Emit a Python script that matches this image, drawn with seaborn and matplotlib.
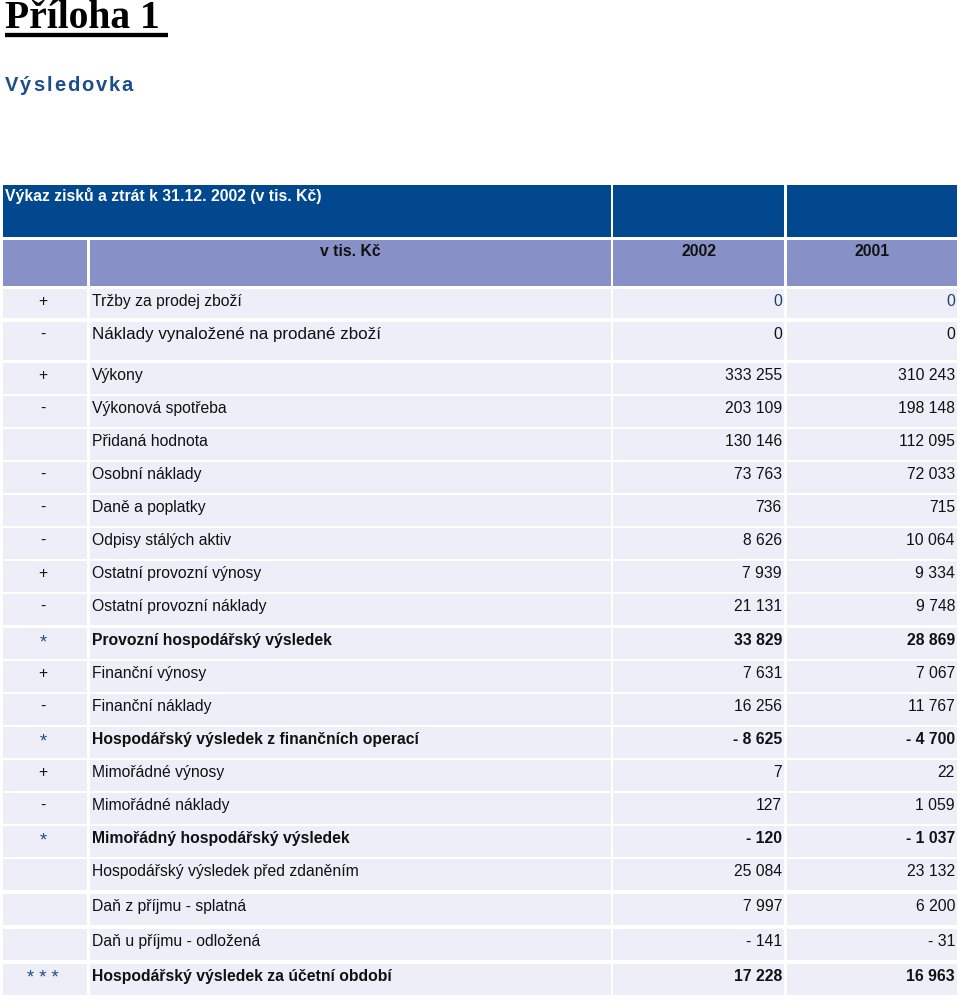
import matplotlib
matplotlib.use('Agg')
import matplotlib.pyplot as plt
import seaborn as sns
from matplotlib.patches import Rectangle

# Data - Vykaz zisku a ztrat (v tis. Kc)
signs = ['+', '-', '+', '-', '', '-', '-', '-', '+', '-', '*', '+', '-', '*',
         '+', '-', '*', '', '', '', '* * *']
labels = ['Tržby za prodej zboží', 'Náklady vynaložené na prodané zboží', 'Výkony',
          'Výkonová spotřeba', 'Přidaná hodnota', 'Osobní náklady', 'Daně a poplatky',
          'Odpisy stálých aktiv', 'Ostatní provozní výnosy', 'Ostatní provozní náklady',
          'Provozní hospodářský výsledek', 'Finanční výnosy', 'Finanční náklady',
          'Hospodářský výsledek z finančních operací', 'Mimořádné výnosy',
          'Mimořádné náklady', 'Mimořádný hospodářský výsledek',
          'Hospodářský výsledek před zdaněním', 'Daň z příjmu - splatná',
          'Daň u příjmu - odložená', 'Hospodářský výsledek za účetní období']
v2002 = [0, 0, 333255, 203109, 130146, 73763, 736, 8626, 7939, 21131, 33829,
         7631, 16256, -8625, 7, 127, -120, 25084, 7997, -141, 17228]
v2001 = [0, 0, 310243, 198148, 112095, 72033, 715, 10064, 9334, 9748, 28869,
         7067, 11767, -4700, 22, 1059, -1037, 23132, 6200, -31, 16963]
years = ['2002', '2001']

# layout (pixels)
row_tops = [289, 322, 363, 396, 429, 462, 495, 528, 561, 594, 628, 661, 694,
            727, 760, 793, 826, 859, 894, 929, 964]
row_h = [29, 38] + [31] * 19
cols = [(3, 87), (90, 611), (613, 784), (787, 957)]

dark_blue = '#02488e'
head_blue = '#8791c8'
cell_bg = '#eeeef9'
star_col = '#1f4f8a'


def fmt(v):
    s = f'{abs(v):,}'.replace(',', ' ')
    return ('- ' + s) if v < 0 else s


sns.set_theme(style='white')
plt.rcParams['font.family'] = ['Liberation Sans', 'DejaVu Sans']

fig = plt.figure(figsize=(9.6, 10), dpi=100)
ax = fig.add_axes([0, 0, 1, 1])
ax.set_xlim(0, 960)
ax.set_ylim(1000, 0)
ax.axis('off')
fs = 11.3

# title
ax.text(5, 28.5, 'Příloha 1', family='Liberation Serif', fontweight='bold',
        fontsize=28.5, color='black', va='baseline')
ax.plot([5, 168], [34.5, 34.5], color='black', lw=3.1, solid_capstyle='butt')

# letter-spaced subtitle
fig.canvas.draw()
rend = fig.canvas.get_renderer()
x = 5
for ch in 'Výsledovka':
    t = ax.text(x, 91, ch, fontsize=14.5, fontweight='bold', color='#1b4f8c',
                va='baseline')
    x += t.get_window_extent(rend).width + 1.9

# header rows
ax.add_patch(Rectangle((cols[0][0], 185), cols[1][1] - cols[0][0], 52, color=dark_blue, lw=0))
for c in cols[2:]:
    ax.add_patch(Rectangle((c[0], 185), c[1] - c[0], 52, color=dark_blue, lw=0))
ax.text(5, 196, 'Výkaz zisků a ztrát k 31.12. 2002 (v tis. Kč)', color='white',
        fontweight='bold', fontsize=fs, va='center')
for c in cols:
    ax.add_patch(Rectangle((c[0], 240), c[1] - c[0], 46, color=head_blue, lw=0))
ax.text((cols[1][0] + cols[1][1]) / 2, 251.5, 'v tis. Kč', fontweight='bold',
        fontsize=fs, ha='center', va='center', color='#111111')
for c, yr in zip(cols[2:], years):
    ax.text((c[0] + c[1]) / 2, 251.5, yr, fontweight='bold', fontsize=fs,
            ha='center', va='center', color='#111111')

# body
for i in range(len(labels)):
    top, h = row_tops[i], row_h[i]
    for c in cols:
        ax.add_patch(Rectangle((c[0], top), c[1] - c[0], h, color=cell_bg, lw=0))
    bold = '*' in signs[i]
    fw = 'bold' if bold else 'normal'
    ty = top + 12.5
    if signs[i]:
        ax.text(43, ty + (2 if bold else 0), signs[i], ha='center', va='center',
                fontsize=fs + (2 if bold else 0), color=star_col if bold else '#111111')
    lfs = fs * 1.08 if i == 1 else fs
    ax.text(92, ty, labels[i], fontsize=lfs, fontweight=fw, va='center', color='#111111')
    vcol = '#1f3f6a' if i == 0 else '#111111'
    ax.text(782, ty, fmt(v2002[i]), fontsize=fs, fontweight=fw, ha='right', va='center', color=vcol)
    ax.text(955, ty, fmt(v2001[i]), fontsize=fs, fontweight=fw, ha='right', va='center', color=vcol)

fig.savefig('out.png', dpi=100, facecolor='white')
